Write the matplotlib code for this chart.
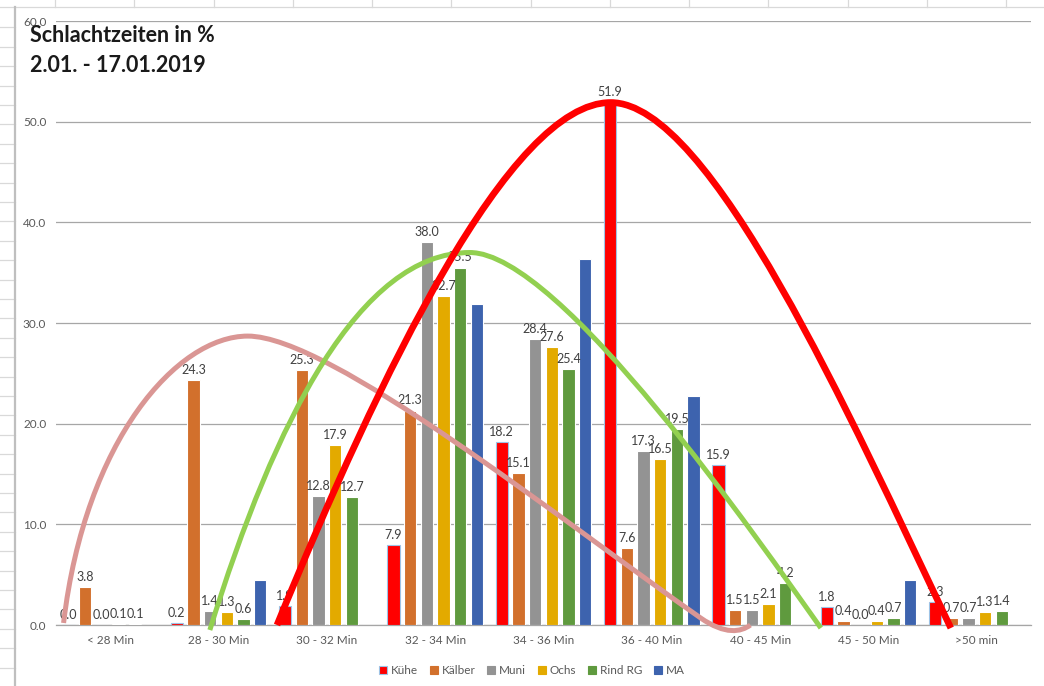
import numpy as np
import matplotlib.pyplot as plt
from matplotlib.path import Path
from matplotlib.patches import PathPatch, Patch
from matplotlib.lines import Line2D

plt.rcParams['font.family'] = ['Lato', 'DejaVu Sans']

# Data (percent of slaughters per duration class)
categories = ['< 28 Min', '28 - 30 Min', '30 - 32 Min', '32 - 34 Min', '34 - 36 Min',
              '36 - 40 Min', '40 - 45 Min', '45 - 50 Min', '>50 min']
kuehe   = [0.0, 0.2, 1.9, 7.9, 18.2, 51.9, 15.9, 1.8, 2.3]
kaelber = [3.8, 24.3, 25.3, 21.3, 15.1, 7.6, 1.5, 0.4, 0.7]
muni    = [0.0, 1.4, 12.8, 38.0, 28.4, 17.3, 1.5, 0.0, 0.7]
ochs    = [0.1, 1.3, 17.9, 32.7, 27.6, 16.5, 2.1, 0.4, 1.3]
rind_rg = [0.1, 0.6, 12.7, 35.5, 25.4, 19.5, 4.2, 0.7, 1.4]
ma      = [0.0, 4.5, 0.0, 31.9, 36.4, 22.7, 0.0, 4.5, 0.0]

series_names = ['Kühe', 'Kälber', 'Muni', 'Ochs', 'Rind RG', 'MA']
series_vals = [kuehe, kaelber, muni, ochs, rind_rg, ma]
colors = ['#FF0000', '#D2702C', '#939393', '#E3AA00', '#5F9A3E', '#3D63AE']
labelled = [True, True, True, True, True, False]

# Hand-drawn trend arcs (cubic bezier control points, data coords)
pink_curve = [(-0.43, 0.2), (-0.23, 18.4), (0.62, 28.7), (1.27, 28.7),
              (2.03, 28.7), (4.15, 10.5), (5.45, 0.7),
              (5.68, -1.0), (5.82, -0.7), (5.91, 0.0)]
green_curve = [(0.92, -0.5), (1.52, 20.4), (2.31, 37.0), (3.32, 37.0),
               (4.15, 37.0), (6.00, 8.2), (6.56, -0.3)]
red_curve = [(1.54, 0.0), (2.49, 24.9), (3.69, 51.9), (4.62, 51.9),
             (5.54, 51.9), (6.83, 20.7), (7.76, -0.3)]

W, H = 1044, 686
fig = plt.figure(figsize=(W / 100, H / 100), dpi=100)
fig.patch.set_facecolor('white')

# Spreadsheet cells behind the chart.
def px_line(x0, y0, x1, y1, **kw):
    fig.add_artist(Line2D([x0 / W, x1 / W], [1 - y0 / H, 1 - y1 / H], **kw))

grid_kw = dict(color='#D9D9D9', linewidth=0.9)
px_line(0, 7, W, 7, **grid_kw)
for k in range(13):
    x = 55 + 79.25 * k
    px_line(x, 0, x, 7, **grid_kw)
for k in range(1, 36):
    y = 8 + 19.4 * k
    px_line(0, y, 15, y, **grid_kw)
px_line(15, 7, 15, H, color='#BFBFBF', linewidth=1.6)

ax = fig.add_axes([56 / W, 1 - 625 / H, (1031 - 56) / W, (625 - 21) / H])

n = len(series_vals)
pitch = 0.154
width = 0.116
x = np.arange(len(categories))
for i, (name, vals, c, lab) in enumerate(zip(series_names, series_vals, colors, labelled)):
    pos = x + (i - (n - 1) / 2) * pitch
    ec = '#9DC3E6' if i == 0 else 'white'
    bars = ax.bar(pos, vals, width, color=c, edgecolor=ec, linewidth=0.8, zorder=3, label=name)
    if lab:
        ax.bar_label(bars, labels=['%.1f' % v for v in vals], padding=3,
                     fontsize=9, color='#404040', zorder=4)

for pts, col, lw in [(pink_curve, '#DA9694', 3.6), (green_curve, '#92D050', 3.6),
                     (red_curve, '#FF0000', 4.8)]:
    codes = [Path.MOVETO] + [Path.CURVE4] * (len(pts) - 1)
    patch = PathPatch(Path(pts, codes), facecolor='none', edgecolor=col,
                      linewidth=lw, zorder=6, clip_on=False, capstyle='butt')
    ax.add_patch(patch)

ax.set_xlim(-0.5, len(categories) - 0.5)
ax.set_ylim(0, 60)
ax.set_yticks(np.arange(0, 61, 10))
ax.set_yticklabels(['%.1f' % v for v in np.arange(0, 61, 10)])
ax.set_xticks(x)
ax.set_xticklabels(categories)
ax.tick_params(axis='both', length=0, labelsize=8.5, labelcolor='#595959')
ax.tick_params(axis='y', pad=7)
ax.tick_params(axis='x', pad=7)
ax.yaxis.grid(True, color='#A6A6A6', linewidth=0.9, zorder=0)
ax.set_axisbelow(True)
for s in ['top', 'right', 'left']:
    ax.spines[s].set_visible(False)
ax.spines['bottom'].set_color('#A6A6A6')
ax.spines['bottom'].set_linewidth(0.9)

handles = [Patch(facecolor=c, edgecolor=('#9DC3E6' if i == 0 else c), linewidth=0.8)
           for i, c in enumerate(colors)]
ax.legend(handles, series_names, loc='center', bbox_to_anchor=(0.488, -0.075),
          ncol=6, frameon=False, fontsize=8.5, handlelength=0.7, handleheight=0.7,
          handletextpad=0.3, columnspacing=1.0, labelcolor='#595959')

fig.text(30 / W, 1 - 35 / H, 'Schlachtzeiten in %', fontsize=15.5, fontweight='bold',
         color='#1A1A1A', va='center', ha='left')
fig.text(30 / W, 1 - 65 / H, '2.01. - 17.01.2019', fontsize=15.5, fontweight='bold',
         color='#1A1A1A', va='center', ha='left')

fig.savefig('out.png', dpi=100, facecolor='white')
